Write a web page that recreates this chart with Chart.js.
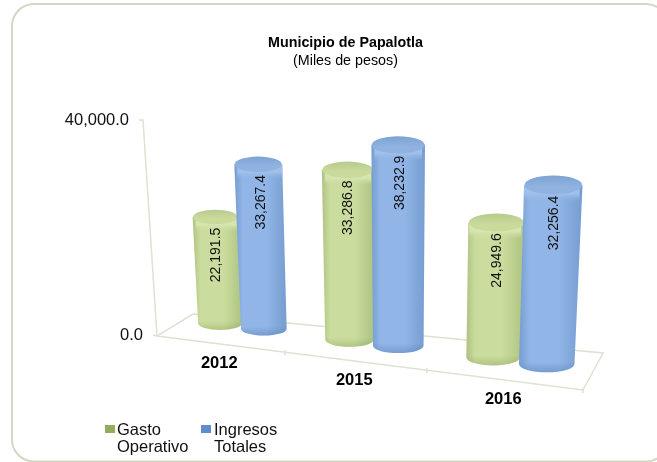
<!DOCTYPE html>
<html><head><meta charset="utf-8">
<style>html,body{margin:0;padding:0;background:#fff}#wrap{width:657px;height:462px;overflow:hidden}</style>
<script src="https://cdn.jsdelivr.net/npm/chart.js@4/dist/chart.umd.js"></script>
</head><body><div id="wrap"><canvas id="c" width="657" height="462"></canvas></div>
<script>
const categories = ['2012', '2015', '2016'];
const gastoOperativo = [22191.5, 33286.8, 24949.6];
const ingresosTotales = [33267.4, 38232.9, 32256.4];
const yTicks = [0, 40000];
const seriesNames = ['Gasto Operativo', 'Ingresos Totales'];
const legendLines = [['Gasto', 'Operativo'], ['Ingresos', 'Totales']];
const palette = {
  green: {edge:'#adc382', mid:'#cbdd9e', rim:'#d6e5b0', top:'#c9da9b', back:'#b7cb8e', shade:'rgba(110,135,60,', swatch:'#93ad5c'},
  blue: {edge:'#769dd1', mid:'#90b5e6', rim:'#a0bfe9', top:'#8fb2e0', back:'#7da3d4', shade:'rgba(50,90,150,', swatch:'#5f8ccb'}
};
const fmt = v => v.toLocaleString('en-US', {minimumFractionDigits:1, maximumFractionDigits:1});
const SANS = '"Liberation Sans", Arial, sans-serif';
const AREA = {l:157, t:120, b:335};

// perspective: chart-area coordinates -> picture coordinates
const frontX = u => 157 + 363*u + 63*u*u;
const slopeX = u => 363 + 126*u;
const lean = (x, h) => (x - 400) * h * 0.00025;
const edgeY = x => 336 + (x - 157)*54/426;

function drawCylinder(chart, el, colors, text, isBlue) {
  const ctx = chart.ctx, a = chart.chartArea, W = a.right - a.left;
  const u = (el.x - a.left) / W;
  const bx = frontX(u) + 24 - 9*u;
  const by = 323 + 0.1246*(bx - 217.5);
  const wb = (el.width / W) * slopeX(u);
  const h = (el.base - el.y) * (0.875 + 0.17*u + (isBlue ? 0.008 : 0));
  const tx = bx + lean(bx, h);
  const ty = by - h;
  const wt = wb * (1 + h*0.0003);
  const rb = wb/2, rt = wt/2, ryb = wb*0.15, ryt = wt*0.16;
  const left = Math.min(tx-rt, bx-rb), right = Math.max(tx+rt, bx+rb);
  ctx.save();
  const g = ctx.createLinearGradient(left, 0, right, 0);
  g.addColorStop(0, colors.edge);
  g.addColorStop(0.16, colors.mid);
  g.addColorStop(0.62, colors.mid);
  g.addColorStop(1, colors.edge);
  const body = new Path2D();
  body.moveTo(tx-rt, ty);
  body.lineTo(bx-rb, by);
  body.ellipse(bx, by, rb, ryb, 0, Math.PI, 0, true);
  body.lineTo(tx+rt, ty);
  body.closePath();
  ctx.fillStyle = g;
  ctx.fill(body);
  // darkening near the foot of the cylinder
  const fg = ctx.createLinearGradient(0, by-2, 0, by+ryb);
  fg.addColorStop(0, colors.shade + '0)');
  fg.addColorStop(1, colors.shade + '0.28)');
  ctx.fillStyle = fg;
  ctx.fill(body);
  // bevel just under the lid
  const bg = ctx.createLinearGradient(0, ty, 0, ty+ryt+7);
  bg.addColorStop(0, colors.rim);
  bg.addColorStop(0.55, colors.rim);
  bg.addColorStop(1, colors.mid + '00');
  ctx.fillStyle = bg;
  ctx.save();
  ctx.clip(body);
  ctx.fillRect(left+3, ty, right-left-6, ryt+7);
  ctx.restore();
  // lid
  const tg = ctx.createLinearGradient(0, ty-ryt, 0, ty+ryt);
  tg.addColorStop(0, colors.back);
  tg.addColorStop(0.6, colors.top);
  tg.addColorStop(1, colors.top);
  ctx.beginPath();
  ctx.ellipse(tx, ty, rt-0.5, ryt, 0, 0, Math.PI*2);
  ctx.fillStyle = tg;
  ctx.fill();
  // value label
  ctx.translate(tx + 0.5 + (isBlue ? 3*(1-u) : 0), ty + 38);
  ctx.rotate(-Math.PI/2);
  ctx.fillStyle = '#111';
  ctx.font = '14px ' + SANS;
  ctx.textAlign = 'center';
  ctx.textBaseline = 'middle';
  ctx.fillText(text, 0, 0);
  ctx.restore();
}

const scene = {
  id: 'scene',
  beforeDraw(chart) {
    const ctx = chart.ctx;
    ctx.save();
    // frame (runs off the right and bottom of the picture)
    ctx.beginPath();
    ctx.roundRect(12, 4, 656, 457.5, 22);
    ctx.strokeStyle = '#d3d7c3';
    ctx.lineWidth = 2;
    ctx.stroke();
    // floor & wall
    ctx.strokeStyle = '#e0e0d3';
    ctx.lineWidth = 1.5;
    ctx.beginPath();
    ctx.moveTo(157,336); ctx.lineTo(583,390); ctx.lineTo(603,353); ctx.lineTo(193,314); ctx.closePath();
    ctx.moveTo(157,336); ctx.lineTo(143,120); ctx.lineTo(139,120);
    ctx.moveTo(157,336); ctx.lineTo(153,335);
    categories.forEach((_, i) => {
      const x = frontX((i+1)/categories.length), y = edgeY(x);
      ctx.moveTo(x, y-2); ctx.lineTo(x, y+3);
    });
    ctx.stroke();
    ctx.restore();
  },
  beforeDatasetsDraw(chart) {
    const ctx = chart.ctx, a = chart.chartArea;
    const sets = [
      {m: chart.getDatasetMeta(0), c: palette.green, d: gastoOperativo, b: false},
      {m: chart.getDatasetMeta(1), c: palette.blue, d: ingresosTotales, b: true}
    ];
    categories.forEach((_, i) => sets.forEach(s => drawCylinder(chart, s.m.data[i], s.c, fmt(s.d[i]), s.b)));
    ctx.save();
    ctx.textBaseline = 'middle';
    // value axis labels, following the leaning wall
    ctx.fillStyle = '#111';
    ctx.font = '16.5px ' + SANS;
    ctx.textAlign = 'right';
    const sy = chart.scales.y;
    yTicks.forEach(v => {
      const y = sy.getPixelForValue(v);
      const wallX = 157 - 14*(AREA.b - y)/(AREA.b - AREA.t);
      ctx.fillText(fmt(v), wallX - 14, y + 0.5);
    });
    // category labels on the tilted floor
    ctx.fillStyle = '#000';
    ctx.font = 'bold 16.5px ' + SANS;
    ctx.textAlign = 'center';
    const sx = chart.scales.x;
    categories.forEach((c, i) => {
      const u = (sx.getPixelForValue(i) - a.left) / (a.right - a.left);
      const x = frontX(u);
      ctx.fillText(c, x, edgeY(x) + 19.5);
    });
    // legend
    const items = [{x:105, t:117, c:palette.green},{x:201, t:214, c:palette.blue}];
    ctx.font = '16.5px ' + SANS;
    ctx.textAlign = 'left';
    items.forEach((it, i) => {
      ctx.fillStyle = it.c.swatch;
      ctx.fillRect(it.x, 425, 10, 8);
      ctx.fillStyle = '#111';
      ctx.fillText(legendLines[i][0], it.t, 430);
      ctx.fillText(legendLines[i][1], it.t, 447);
    });
    ctx.restore();
  }
};
scene.beforeDatasetDraw = () => false;

new Chart(document.getElementById('c'), {
  type: 'bar',
  data: {
    labels: categories,
    datasets: [
      {label: seriesNames[0], data: gastoOperativo, backgroundColor: palette.green.mid},
      {label: seriesNames[1], data: ingresosTotales, backgroundColor: palette.blue.mid}
    ]
  },
  options: {
    responsive: false,
    animation: false,
    layout: {padding: {left: 34, right: 0, top: 0, bottom: 0}},
    datasets: {bar: {categoryPercentage: 0.7, barPercentage: 1}},
    plugins: {
      legend: {display: false},
      tooltip: {enabled: false},
      title: {display: true, text: 'Municipio de Papalotla', color: '#000',
        font: {family: SANS, size: 14.3, weight: 'bold'}, padding: {top: 34, bottom: 0}},
      subtitle: {display: true, text: '(Miles de pesos)', color: '#000',
        font: {family: SANS, size: 14.3, weight: 'normal'}, padding: {top: 1, bottom: 51}}
    },
    scales: {
      x: {
        grid: {display: false}, border: {display: false},
        ticks: {display: false},
        afterFit(s) { s.height = 462 - AREA.b; }
      },
      y: {
        min: 0, max: 40000,
        grid: {display: false}, border: {display: false},
        afterFit(s) { s.width = AREA.l - 34; },
        afterBuildTicks(s) { s.ticks = yTicks.map(v => ({value: v})); },
        ticks: {display: false}
      }
    }
  },
  plugins: [scene]
});
</script></body></html>
